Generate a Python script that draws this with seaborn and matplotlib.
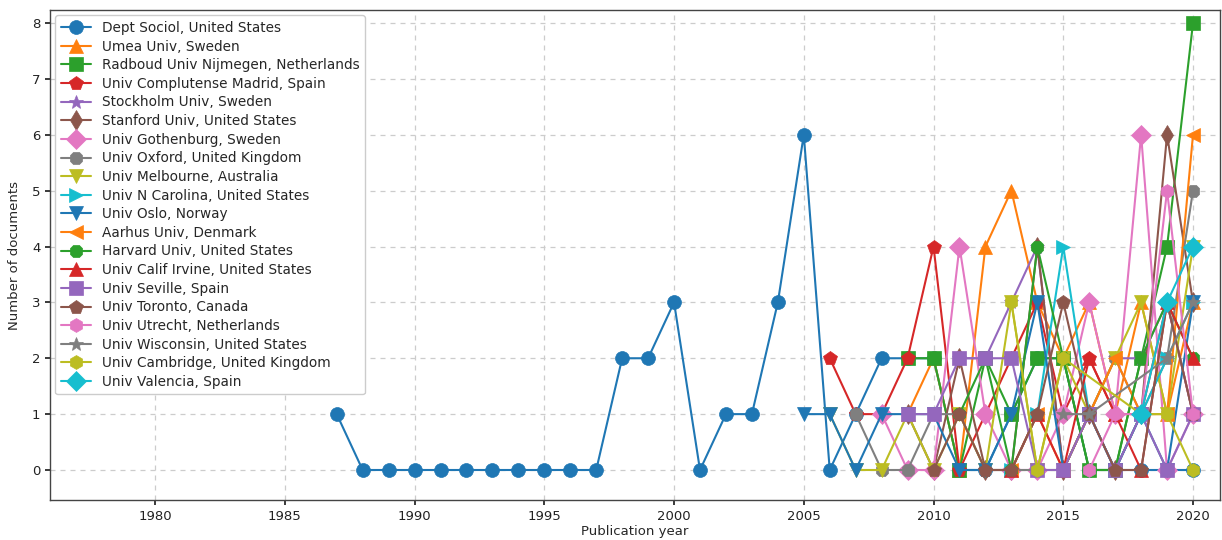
import numpy as np
import pandas as pd
import matplotlib
matplotlib.use("Agg")
import matplotlib.pyplot as plt
import seaborn as sns

n = np.nan
years_full = list(range(1987, 2021))
years_recent = list(range(2005, 2021))

dept_sociol = [1, 0, 0, 0, 0, 0, 0, 0, 0, 0, 0, 2, 2, 3, 0, 1, 1, 3, 6,
               0, 1, 2, 2, 2, 0, 0, 1, 2, 2, 0, 0, 0, 0, 0]
umea = [n, n, n, n, 1, 2, 0, 4, 5, 3, 2, 3, 1, 3, 1, 3]
radboud = [n, n, n, n, 2, 2, 0, 2, 1, 2, 2, 0, 0, 2, 4, 8]
complutense = [n, 2, 1, 1, 2, 4, 0, 1, 2, 3, 1, 2, 1, 1, 3, 1]
stockholm = [n, n, n, n, n, n, 2, 2, 3, 4, 0, 1, 2, 2, 3, 1]
stanford = [n, n, n, n, 1, 0, 2, 0, 0, 4, 0, 1, 0, 1, 6, 3]
gothenburg = [n, n, n, 1, 0, 0, 4, 1, 0, 0, 1, 3, 1, 6, 0, 1]
oxford = [n, n, 1, 0, 0, 1, 1, 0, 0, 0, 0, 1, 2, 1, 2, 5]
melbourne = [n, 1, 0, 0, 1, 0, 1, 0, 3, 0, 2, 1, 2, 3, 1, 4]
n_carolina = [n, n, n, n, n, n, n, n, 0, 1, 4, 1, 0, 1, 2, 3]
oslo = [1, 1, 0, 1, 1, 1, 0, 0, 1, 3, 0, 1, 0, 1, 0, 3]
aarhus = [n, n, n, n, n, n, n, n, 0, 1, 0, 1, 2, 1, 1, 6]
harvard = [n, n, n, n, n, n, 1, 2, 0, 4, 2, 0, 0, 2, 3, 2]
calif_irvine = [n, n, n, n, n, n, n, n, 0, 1, 0, 2, 1, 0, 3, 2]
seville = [n, n, n, n, 1, 1, 2, 2, 2, 0, 0, 1, 0, 1, 0, 1]
toronto = [n, n, n, n, n, 0, 1, 0, 0, 1, 3, 1, 0, 0, 3, 1]
utrecht = [n, n, n, n, n, n, n, n, n, n, n, 0, 1, 1, 5, 1]
wisconsin = [n, n, n, n, n, n, n, n, n, n, 1, 1, n, n, 2, 3]
cambridge = [n, n, n, n, n, n, n, n, 3, 0, 2, n, n, 1, 1, 0]
valencia = [n, n, n, n, n, n, n, n, n, n, n, n, n, 1, 3, 4]

labels = [
    "Dept Sociol, United States", "Umea Univ, Sweden",
    "Radboud Univ Nijmegen, Netherlands", "Univ Complutense Madrid, Spain",
    "Stockholm Univ, Sweden", "Stanford Univ, United States",
    "Univ Gothenburg, Sweden", "Univ Oxford, United Kingdom",
    "Univ Melbourne, Australia", "Univ N Carolina, United States",
    "Univ Oslo, Norway", "Aarhus Univ, Denmark",
    "Harvard Univ, United States", "Univ Calif Irvine, United States",
    "Univ Seville, Spain", "Univ Toronto, Canada",
    "Univ Utrecht, Netherlands", "Univ Wisconsin, United States",
    "Univ Cambridge, United Kingdom", "Univ Valencia, Spain",
]
series = [dept_sociol, umea, radboud, complutense, stockholm, stanford,
          gothenburg, oxford, melbourne, n_carolina, oslo, aarhus, harvard,
          calif_irvine, seville, toronto, utrecht, wisconsin, cambridge,
          valencia]
markers = ["o", "^", "s", "p", "*", "d", "D", "8", "v", ">",
           "v", "<", "8", "^", "s", "p", "h", "*", "h", "D"]
palette = sns.color_palette("tab10", 10)

sns.set_theme(style="ticks")
plt.rcParams["font.family"] = ["DejaVu Sans"]

fig = plt.figure(figsize=(12.22, 5.4), dpi=100)
ax = fig.add_axes([50 / 1222, 40 / 540, 1170 / 1222, 490 / 540])

for i, (lab, vals) in enumerate(zip(labels, series)):
    yrs = years_full if len(vals) == len(years_full) else years_recent
    df = pd.DataFrame({"year": yrs, "count": vals}).dropna()
    c = palette[i % 10]
    sns.lineplot(data=df, x="year", y="count", ax=ax, color=c,
                 marker=markers[i], markersize=10, markeredgecolor=c,
                 markeredgewidth=0.5, linewidth=1.5, label=lab,
                 legend=False, errorbar=None)

ax.set_xlim(1975.95, 2021.04)
ax.set_ylim(-0.537, 8.233)
ax.set_xticks([1980, 1985, 1990, 1995, 2000, 2005, 2010, 2015, 2020])
ax.set_yticks(range(0, 9))
ax.grid(True, linestyle=(0, (4, 4)), color="#cccccc", linewidth=0.9)
ax.set_axisbelow(True)
for s in ax.spines.values():
    s.set_color("#444444")
    s.set_linewidth(1.0)
ax.tick_params(labelsize=9.5, colors="#222222", length=3.5)
ax.set_xlabel("Publication year", fontsize=9.5, labelpad=2)
ax.set_ylabel("Number of documents", fontsize=9.5, labelpad=8)

ax.legend(loc="upper left", fontsize=9.8, labelspacing=0.34,
          handlelength=2.2, borderaxespad=0.4, frameon=True,
          framealpha=1, edgecolor="#cccccc", fancybox=True)

fig.savefig("out.png", dpi=100)
